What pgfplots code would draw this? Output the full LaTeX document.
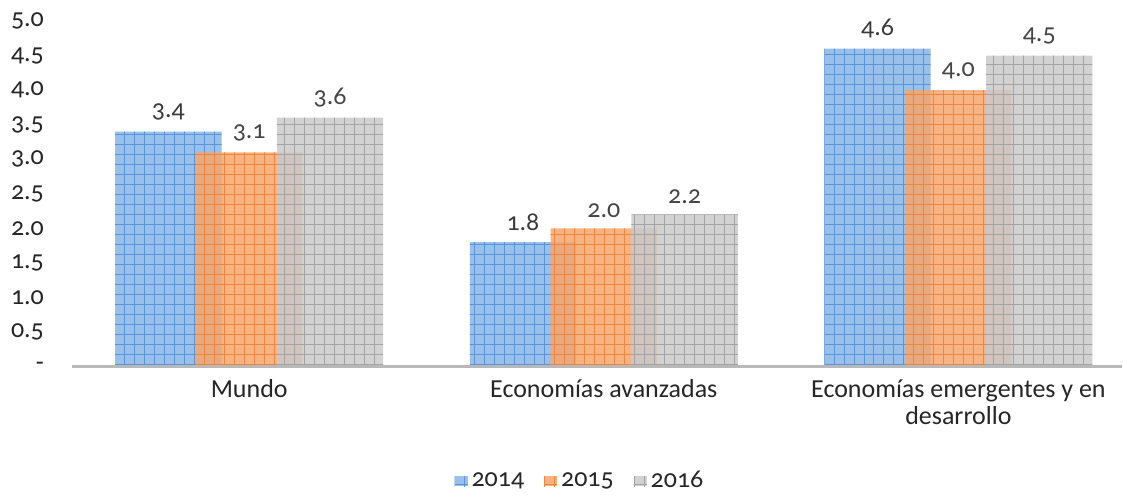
\documentclass[border=0pt]{standalone}
\usepackage{fontspec}
\setmainfont{Carlito}[Numbers=OldStyle]
\usepackage{pgfplots}
\pgfplotsset{compat=1.18}
\usetikzlibrary{patterns.meta}
\definecolor{bFill}{HTML}{8DB9E8}
\definecolor{bLine}{HTML}{5A94D8}
\definecolor{oFill}{HTML}{F7A66C}
\definecolor{oLine}{HTML}{EF8640}
\definecolor{gFill}{HTML}{CACACA}
\definecolor{gLine}{HTML}{A3A3A3}
\definecolor{txt}{HTML}{262626}
\tikzdeclarepattern{
  name=barsgrid,
  type=uncolored,
  bottom left={(-.1pt,-.1pt)},
  top right={(5.1pt,5.1pt)},
  tile size={(5pt,5pt)},
  code={\draw[line width=0.35pt] (0,2.5pt) -- (5pt,2.5pt) (2.5pt,0) -- (2.5pt,5pt);}
}
\begin{document}
\begin{tikzpicture}
\begin{axis}[
  scale only axis,
  width=525.5pt, height=173pt,
  xmin=-0.5, xmax=2.46,
  ymin=0, ymax=5,
  clip=false,
  axis line style={draw=none},
  major tick length=0pt,
  xtick={0,1,2},
  xticklabels={Mundo, Economías avanzadas, {Economías emergentes y en\\desarrollo}},
  xticklabel style={align=center, font=\fontsize{13}{13.5}\selectfont, text=txt, yshift=-3pt},
  ytick={0,0.5,...,5},
  yticklabels={-,0.5,1.0,1.5,2.0,2.5,3.0,3.5,4.0,4.5,5.0},
  yticklabel style={font=\fontsize{13}{14}\selectfont, text=txt, anchor=east, xshift=-10.5pt},
  /pgf/number format/assume math mode=true,
  ybar, bar width=0.30,
  nodes near coords={\pgfmathprintnumber[fixed,fixed zerofill,precision=1]{\pgfplotspointmeta}},
  every node near coord/.append style={font=\fontsize{13}{14}\selectfont, text=txt, anchor=south, yshift=2pt},
  legend columns=3,
  legend style={draw=none, fill=none, at={(0.485,-0.332)}, anchor=center,
    font=\fontsize{13}{14}\selectfont, text=txt,
    /tikz/every even column/.append style={column sep=8pt}},
  legend image code/.code={\fill[#1] (0pt,-2.6pt) rectangle (6.5pt,2.6pt);},
]
\addplot[bar shift=-0.228, draw=none, fill=bFill, fill opacity=0.9,
  postaction={pattern=barsgrid, pattern color=bLine}]
  coordinates {(0,3.4) (1,1.8) (2,4.6)};
\addplot[bar shift=0, draw=none, fill=oFill, fill opacity=0.85,
  postaction={pattern=barsgrid, pattern color=oLine}]
  coordinates {(0,3.1) (1,2.0) (2,4.0)};
\addplot[bar shift=0.228, draw=none, fill=gFill, fill opacity=0.85,
  postaction={pattern=barsgrid, pattern color=gLine}]
  coordinates {(0,3.6) (1,2.2) (2,4.5)};
\legend{2014,2015,2016}
\draw[draw=gray!55, line width=1.5pt] (axis cs:-0.5,0) -- (axis cs:2.46,0);
\end{axis}
\path[use as bounding box] (-36pt,-63pt) rectangle (525.5pt,183.5pt);
\end{tikzpicture}
\end{document}
